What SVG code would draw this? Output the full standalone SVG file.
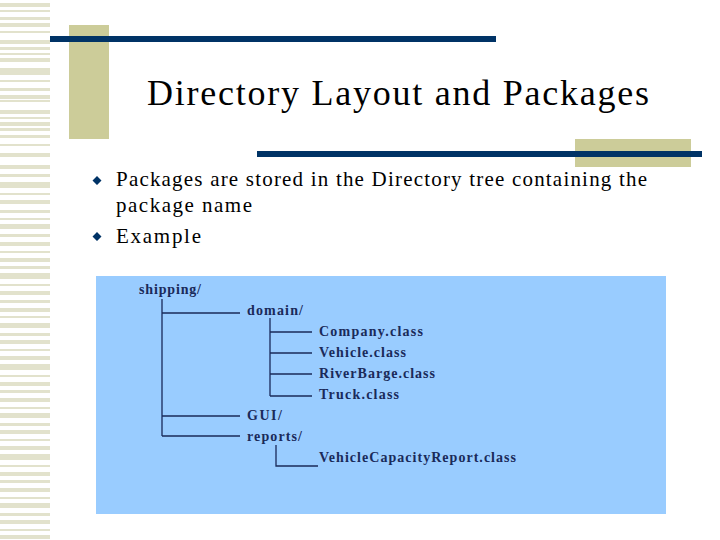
<svg xmlns="http://www.w3.org/2000/svg" width="720" height="540" viewBox="0 0 720 540">
<style>
.s{fill:#e2e2cc}
.t{font-family:"Liberation Serif",serif;fill:#000}
.n{font-family:"Liberation Serif",serif;font-weight:bold;font-size:14px;fill:#1a2a5a}
.l{stroke:#1a2a5a;stroke-width:1.3;fill:none}
</style>
<rect width="720" height="540" fill="#fff"/>
<g id="stripes">
<rect class="s" x="0" y="3" width="50" height="4"/><rect class="s" x="0" y="10" width="50" height="2"/>
<rect class="s" x="0" y="17" width="50" height="3"/><rect class="s" x="0" y="23" width="50" height="4"/>
<rect class="s" x="0" y="31" width="50" height="2"/><rect class="s" x="0" y="40" width="50" height="4"/>
<rect class="s" x="0" y="47" width="50" height="3"/><rect class="s" x="0" y="53" width="50" height="2"/>
<rect class="s" x="0" y="58" width="50" height="4"/><rect class="s" x="0" y="68" width="50" height="7"/>
<rect class="s" x="0" y="80" width="50" height="2"/><rect class="s" x="0" y="88" width="50" height="3"/>
<rect class="s" x="0" y="95" width="50" height="4"/><rect class="s" x="0" y="100" width="50" height="2"/>
<rect class="s" x="0" y="110" width="50" height="4"/><rect class="s" x="0" y="117" width="50" height="2"/>
<rect class="s" x="0" y="122" width="50" height="4"/><rect class="s" x="0" y="128" width="50" height="3"/>
<rect class="s" x="0" y="135" width="50" height="3"/><rect class="s" x="0" y="144" width="50" height="2"/>
<rect class="s" x="0" y="153" width="50" height="4"/>
<rect class="s" x="0" y="165" width="50" height="4"/><rect class="s" x="0" y="174" width="50" height="3"/>
<rect class="s" x="0" y="182" width="50" height="6"/><rect class="s" x="0" y="193" width="50" height="2"/>
<rect class="s" x="0" y="200" width="50" height="4"/><rect class="s" x="0" y="210" width="50" height="3"/>
<rect class="s" x="0" y="218" width="50" height="2"/><rect class="s" x="0" y="224" width="50" height="5"/>
<rect class="s" x="0" y="234" width="50" height="3"/><rect class="s" x="0" y="242" width="50" height="4"/>
<rect class="s" x="0" y="251" width="50" height="2"/><rect class="s" x="0" y="258" width="50" height="4"/>
<rect class="s" x="0" y="266" width="50" height="3"/><rect class="s" x="0" y="273" width="50" height="6"/>
<rect class="s" x="0" y="284" width="50" height="2"/><rect class="s" x="0" y="291" width="50" height="4"/>
<rect class="s" x="0" y="300" width="50" height="3"/><rect class="s" x="0" y="308" width="50" height="4"/>
<rect class="s" x="0" y="316" width="50" height="2"/><rect class="s" x="0" y="323" width="50" height="5"/>
<rect class="s" x="0" y="333" width="50" height="3"/><rect class="s" x="0" y="340" width="50" height="4"/>
<rect class="s" x="0" y="349" width="50" height="2"/><rect class="s" x="0" y="356" width="50" height="4"/>
<rect class="s" x="0" y="364" width="50" height="6"/><rect class="s" x="0" y="375" width="50" height="2"/>
<rect class="s" x="0" y="382" width="50" height="4"/><rect class="s" x="0" y="390" width="50" height="3"/>
<rect class="s" x="0" y="398" width="50" height="4"/><rect class="s" x="0" y="407" width="50" height="2"/>
<rect class="s" x="0" y="413" width="50" height="5"/><rect class="s" x="0" y="423" width="50" height="3"/>
<rect class="s" x="0" y="430" width="50" height="4"/><rect class="s" x="0" y="439" width="50" height="2"/>
<rect class="s" x="0" y="446" width="50" height="4"/><rect class="s" x="0" y="454" width="50" height="6"/>
<rect class="s" x="0" y="465" width="50" height="2"/><rect class="s" x="0" y="472" width="50" height="4"/>
<rect class="s" x="0" y="480" width="50" height="3"/><rect class="s" x="0" y="488" width="50" height="4"/>
<rect class="s" x="0" y="497" width="50" height="2"/><rect class="s" x="0" y="503" width="50" height="5"/>
<rect class="s" x="0" y="513" width="50" height="3"/><rect class="s" x="0" y="520" width="50" height="4"/>
<rect class="s" x="0" y="529" width="50" height="2"/><rect class="s" x="0" y="535" width="50" height="4"/>
</g>
<g id="decor">
<rect x="69" y="25" width="40" height="114" fill="#cccc99"/>
<rect x="50" y="36" width="446" height="6" fill="#003366"/>
<rect x="575" y="139" width="116" height="28" fill="#cccc99"/>
<rect x="257" y="151" width="445" height="6" fill="#003366"/>
</g>
<g id="title"><text class="t" x="147" y="105" font-size="36" textLength="502">Directory Layout and Packages</text></g>
<g id="bullets">
<path d="M97 176l4.5 4.5-4.5 4.5-4.5-4.5z M97 232l4.5 4.5-4.5 4.5-4.5-4.5z" fill="#003366"/>
<text class="t" x="116" y="186" font-size="21" textLength="531">Packages are stored in the Directory tree containing the</text>
<text class="t" x="116" y="212" font-size="21" textLength="136">package name</text>
<text class="t" x="116" y="243" font-size="21" textLength="85">Example</text>
</g>
<rect x="96" y="276" width="570" height="238" fill="#99ccff"/>
<g id="connectors" class="l">
<path d="M162 299V436M162 313H240M162 416H240M162 436H240"/>
<path d="M270 318V396M270 332H312M270 353H312M270 374H312M270 396H312"/>
<path d="M276 445V466H318"/>
</g>
<g id="shipping"><text class="n" x="139" y="294" textLength="62">shipping/</text></g>
<g id="domain"><text class="n" x="247" y="315" textLength="56">domain/</text></g>
<g id="company"><text class="n" x="319" y="336" textLength="104">Company.class</text></g>
<g id="vehicle"><text class="n" x="319" y="357" textLength="87">Vehicle.class</text></g>
<g id="riverbarge"><text class="n" x="319" y="378" textLength="116">RiverBarge.class</text></g>
<g id="truck"><text class="n" x="319" y="399" textLength="80">Truck.class</text></g>
<g id="gui"><text class="n" x="247" y="420" textLength="35">GUI/</text></g>
<g id="reports"><text class="n" x="247" y="441" textLength="55">reports/</text></g>
<g id="vcr"><text class="n" x="319" y="462" textLength="197">VehicleCapacityReport.class</text></g>
</svg>
